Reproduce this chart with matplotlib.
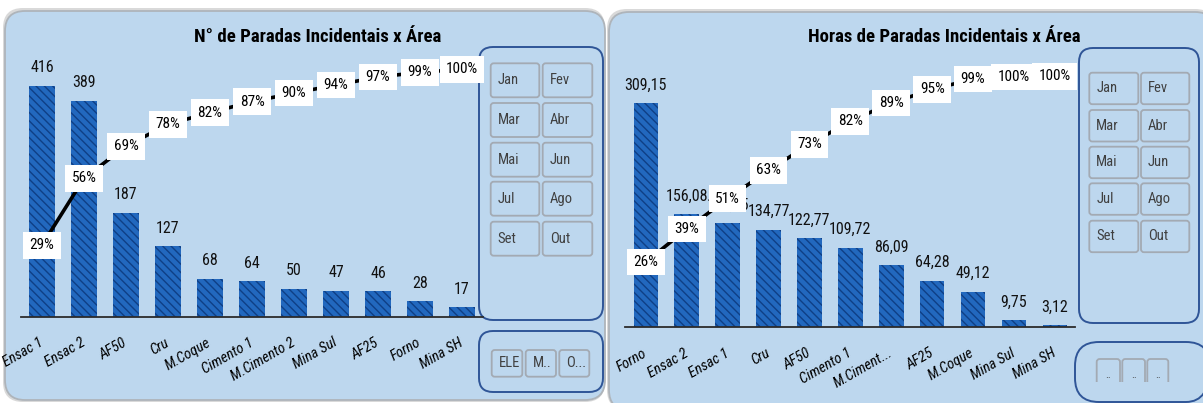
import numpy as np
import matplotlib
matplotlib.use("Agg")
import matplotlib.pyplot as plt
from matplotlib import font_manager
from matplotlib.patches import FancyBboxPatch, Rectangle

# número de paradas incidentais por área
areas_qtd = ["Ensac 1", "Ensac 2", "AF50", "Cru", "M.Coque", "Cimento 1",
             "M.Cimento 2", "Mina Sul", "AF25", "Forno", "Mina SH"]
paradas_qtd = [416, 389, 187, 127, 68, 64, 50, 47, 46, 28, 17]

# horas de paradas incidentais por área
areas_horas = ["Forno", "Ensac 2", "Ensac 1", "Cru", "AF50", "Cimento 1",
               "M.Ciment...", "AF25", "M.Coque", "Mina Sul", "Mina SH"]
paradas_horas = [309.15, 156.08, 143.45, 134.77, 122.77, 109.72, 86.09,
                 64.28, 49.12, 9.75, 3.12]

titulo_qtd = "N° de Paradas Incidentais x Área"
titulo_horas = "Horas de Paradas Incidentais x Área"

meses = ["Jan", "Fev", "Mar", "Abr", "Mai", "Jun", "Jul", "Ago", "Set", "Out"]
filtro_esq = ["ELE", "M..", "O..."]
filtro_dir = ["..", "..", ".."]

# procura uma fonte estreita (tipo Calibri); senão usa Liberation Sans
lista = font_manager.fontManager.ttflist
estreitas = [f for f in lista
             if f.stretch in ("condensed", "semi-condensed", "extra-condensed")
             or "Narrow" in f.name or "Condensed" in f.name]
preferidas = ["Liberation Sans Narrow", "Roboto Condensed", "Open Sans Condensed",
              "DejaVu Sans", "Noto Sans", "Open Sans", "Roboto"]
fonte, condensada = "Liberation Sans", False
for nome in preferidas:
    if any(f.name == nome for f in estreitas):
        fonte, condensada = nome, True
        break
# para os rótulos do eixo x, uma estreita que tenha itálico
fonte_it = fonte
for nome in preferidas:
    if any(f.name == nome and f.style in ("italic", "oblique") for f in estreitas):
        fonte_it = nome
        break
plt.rcParams["font.family"] = fonte
if condensada:
    plt.rcParams["font.stretch"] = "condensed"
k = 1.0 if condensada else 0.88
plt.rcParams["hatch.linewidth"] = 1.0

AZUL_FUNDO = "#BDD7EE"
AZUL_BARRA = "#2268BE"
AZUL_HACH = "#0F3F85"
AZUL_SLICER = "#2F5597"

W, H = 1203, 403
fig = plt.figure(figsize=(W / 100, H / 100), dpi=100)
fig.patch.set_facecolor("white")

# eixo de fundo em pixels (y para baixo)
bg = fig.add_axes([0, 0, 1, 1])
bg.set_xlim(0, W)
bg.set_ylim(H, 0)
bg.axis("off")


def caixa(x0, y0, x1, y1, r, fc, ec, lw, z=1):
    p = FancyBboxPatch((x0, y0), x1 - x0, y1 - y0,
                       boxstyle=f"round,pad=0,rounding_size={r}",
                       fc=fc, ec=ec, lw=lw, zorder=z)
    bg.add_patch(p)
    return p


# painéis (sombra + fundo)
caixa(3, 8, 605, 402, 20, "#D9D9D9", "none", 0, z=0.5)
caixa(607, 9, 1215, 410, 20, "#D9D9D9", "none", 0, z=0.5)
caixa(5, 11, 605, 400, 20, AZUL_FUNDO, "#AEB4BA", 1.3)
caixa(609, 12, 1215, 410, 20, AZUL_FUNDO, "#AEB4BA", 1.3)


def pareto(x0, x1, ytop, ybase, valores, rotulos, ymax, pmax, fmt):
    ax = fig.add_axes([x0 / W, 1 - ybase / H, (x1 - x0) / W, (ybase - ytop) / H])
    ax.patch.set_alpha(0)
    pos = np.arange(len(valores))
    ax.bar(pos, valores, width=0.6, color=AZUL_BARRA, edgecolor=AZUL_HACH,
           hatch="\\\\\\\\", linewidth=0)
    ax.set_xlim(-0.5, 10.5)
    ax.set_ylim(0, ymax)
    for s in ["top", "left", "right"]:
        ax.spines[s].set_visible(False)
    ax.spines["bottom"].set_color("#2b2b2b")
    ax.spines["bottom"].set_linewidth(1.3)
    ax.set_yticks([])
    ax.set_xticks(pos)
    ax.set_xticklabels(rotulos, rotation=30, ha="right", va="center",
                       rotation_mode="anchor", fontsize=10.5 * k,
                       style="italic", family=fonte_it)
    ax.tick_params(axis="x", length=0, pad=18)
    for p, v in zip(pos, valores):
        ax.annotate(fmt(v), (p, v), xytext=(0, 13), textcoords="offset points",
                    ha="center", va="center", fontsize=11.5 * k, color="#111111")

    # curva acumulada no eixo secundário
    ax2 = ax.twinx()
    ax2.set_ylim(0, pmax)
    ax2.set_axis_off()
    acum = np.cumsum(valores) / np.sum(valores) * 100
    ax2.plot(pos, acum, color="black", lw=2.6, solid_capstyle="butt")
    for p, c in zip(pos, acum):
        ax2.text(p, c, f"{c:.0f}%", ha="center", va="center", fontsize=11 * k,
                 bbox=dict(boxstyle="square,pad=0.42", fc="white", ec="none"))
    return ax


pareto(21, 483, 55, 316.7, paradas_qtd, areas_qtd, 471.9, 105.8,
       lambda v: f"{v:d}")
pareto(625.4, 1075.3, 55, 327.3, paradas_horas, areas_horas, 375.8, 108.5,
       lambda v: f"{v:.2f}".replace(".", ","))

bg.text(318, 37, titulo_qtd, ha="center", va="center", fontsize=13.5 * k,
        fontweight="bold", zorder=5)
bg.text(944, 37, titulo_horas, ha="center", va="center", fontsize=13.5 * k,
        fontweight="bold", zorder=5)


def botao(x0, x1, y0, y1, texto, centro=False, clip=None):
    p = caixa(x0, y0, x1, y1, 3, "none", "#A3AAB3", 1.3, z=3)
    if clip is not None:
        p.set_clip_path(clip)
    if centro:
        bg.text((x0 + x1) / 2, 375, texto, ha="center", va="center",
                fontsize=8, color="#404040", zorder=4)
    else:
        bg.text(x0 + 7, (y0 + y1) / 2, texto, ha="left", va="center",
                fontsize=10.5 * k, color="#404040", zorder=4)


# filtros de mês
def slicer_meses(sx0, sx1, sy0, sy1, cols, linhas, alt):
    caixa(sx0, sy0, sx1, sy1, 14, "none", AZUL_SLICER, 1.4, z=3)
    for i, mes in enumerate(meses):
        c0, c1 = cols[i % 2]
        y0 = linhas[i // 2]
        botao(c0, c1, y0, y0 + alt, mes)


slicer_meses(479, 603, 47, 320, [(490.7, 539.3), (542.7, 592.3)],
             [63.3, 103, 142.7, 181.7, 221.7], 34)
slicer_meses(1079, 1199, 48, 323, [(1089.3, 1138.3), (1141, 1189.3)],
             [72.7, 110, 146.7, 183.3, 220.7], 31.5)

# filtros de setor
caixa(479, 331, 603, 392, 14, "none", AZUL_SLICER, 1.4, z=3)
for (c0, c1), txt in zip([(491.7, 522.3), (525.7, 556), (559.3, 589.3)], filtro_esq):
    botao(c0, c1, 350, 376.7, txt)

caixa(1075, 342, 1210, 402, 24, "none", AZUL_SLICER, 1.4, z=3)
corte = Rectangle((1090, 355), 90, 27, transform=bg.transData)
for (c0, c1), txt in zip([(1096.7, 1120), (1122.3, 1145), (1147.3, 1168.3)], filtro_dir):
    botao(c0, c1, 359, 392, txt, centro=True, clip=corte)

fig.savefig("out.png", dpi=100, facecolor="white")
